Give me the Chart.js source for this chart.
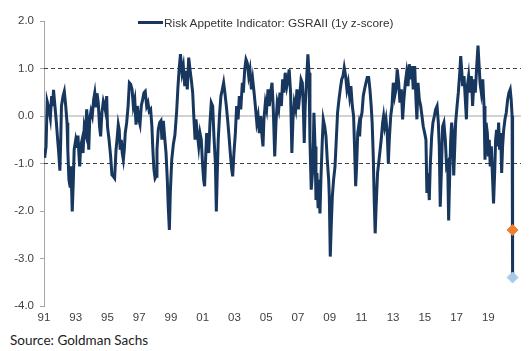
<!DOCTYPE html>
<html>
<head>
<meta charset="utf-8">
<script src="https://cdn.jsdelivr.net/npm/chart.js@4.4.1/dist/chart.umd.min.js"></script>
<style>
  html, body { margin: 0; padding: 0; background: #fff; }
  #wrap { position: relative; width: 531px; height: 351px; overflow: hidden; }
  #chart { position: absolute; left: 0; top: 0; }
  #legend { position: absolute; left: 138px; top: 16px; font: 11.8px "Liberation Sans", Arial, sans-serif; color: #333; white-space: nowrap; }
  #legend .swatch { display: inline-block; width: 25px; height: 3px; background: #17375e; vertical-align: middle; margin-right: 1px; position: relative; top: -1px; }
  #source { position: absolute; left: 10px; top: 332px; font: 13.5px Lato, "Open Sans", sans-serif; color: #222; }
</style>
</head>
<body>
<div id="wrap">
  <canvas id="chart" width="531" height="331"></canvas>
  <div id="legend"><span class="swatch"></span>Risk Appetite Indicator: GSRAII (1y z-score)</div>
  <div id="source">Source: Goldman Sachs</div>
</div>
<script>
// ---- data ----
const seriesLabel = 'Risk Appetite Indicator: GSRAII (1y z-score)';

const dates = [
  1991.04,1991.13,1991.2,1991.3,1991.4,1991.48,1991.55,1991.6,1991.7,1991.78,1991.86,1991.93,
  1992.0,1992.05,1992.1,1992.2,1992.28,1992.37,1992.45,1992.5,1992.57,1992.64,1992.7,1992.78,1992.85,1992.9,
  1993.0,1993.08,1993.14,1993.2,1993.25,1993.31,1993.4,1993.46,1993.54,1993.63,1993.69,1993.75,1993.82,1993.88,1993.96,
  1994.04,1994.13,1994.2,1994.28,1994.34,1994.42,1994.5,1994.57,1994.65,1994.74,1994.82,1994.88,1994.95,
  1995.0,1995.1,1995.2,1995.28,1995.37,1995.45,1995.54,1995.62,1995.68,1995.74,1995.8,1995.87,1995.93,
  1996.0,1996.06,1996.12,1996.21,1996.3,1996.38,1996.46,1996.55,1996.63,1996.72,1996.8,1996.88,1996.97,
  1997.05,1997.13,1997.22,1997.3,1997.38,1997.47,1997.55,1997.63,1997.72,1997.8,1997.86,1997.93,
  1998.0,1998.06,1998.12,1998.2,1998.29,1998.37,1998.43,1998.52,1998.6,1998.69,1998.77,1998.83,1998.9,1998.96,
  1999.05,1999.15,1999.25,1999.36,1999.44,1999.52,1999.6,1999.7,1999.78,1999.87,1999.95,
  2000.03,2000.12,2000.2,2000.28,2000.37,2000.45,2000.52,2000.58,2000.66,2000.75,2000.83,2000.91,
  2001.0,2001.06,2001.12,2001.19,2001.25,2001.31,2001.38,2001.46,2001.54,2001.63,2001.71,2001.8,2001.86,2001.92,2001.98,
  2002.07,2002.15,2002.24,2002.32,2002.4,2002.49,2002.57,2002.66,2002.74,2002.83,2002.89,2002.97,
  2003.06,2003.14,2003.23,2003.31,2003.4,2003.5,2003.56,2003.65,2003.73,2003.81,2003.9,2003.98,
  2004.07,2004.15,2004.24,2004.32,2004.41,2004.49,2004.57,2004.66,2004.74,2004.8,2004.86,2004.95,
  2005.03,2005.12,2005.2,2005.28,2005.37,2005.45,2005.54,2005.62,2005.7,2005.79,2005.87,2005.96,
  2006.04,2006.12,2006.2,2006.3,2006.37,2006.45,2006.54,2006.62,2006.69,2006.77,2006.86,2006.94,
  2007.03,2007.11,2007.2,2007.28,2007.34,2007.4,2007.46,2007.55,2007.63,2007.7,2007.76,2007.84,2007.95,
  2008.01,2008.08,2008.14,2008.2,2008.27,2008.33,2008.39,2008.45,2008.54,2008.6,2008.69,2008.77,2008.85,2008.94,2008.98,
  2009.04,2009.1,2009.17,2009.25,2009.34,2009.42,2009.5,2009.59,2009.67,2009.76,2009.84,2009.92,
  2010.01,2010.09,2010.17,2010.26,2010.34,2010.43,2010.51,2010.57,2010.64,2010.7,2010.77,2010.83,2010.89,2010.95,
  2011.04,2011.12,2011.2,2011.29,2011.37,2011.46,2011.54,2011.62,2011.68,2011.75,2011.81,2011.87,2011.93,
  2012.02,2012.16,2012.25,2012.34,2012.4,2012.47,2012.55,2012.63,2012.7,2012.76,2012.85,2012.93,
  2013.01,2013.1,2013.18,2013.26,2013.35,2013.43,2013.52,2013.6,2013.68,2013.77,2013.85,2013.94,
  2014.02,2014.1,2014.19,2014.27,2014.36,2014.44,2014.5,2014.57,2014.65,2014.74,2014.82,2014.9,2014.99,
  2015.07,2015.13,2015.2,2015.28,2015.34,2015.43,2015.51,2015.6,2015.68,2015.77,2015.85,2015.91,2015.97,
  2016.04,2016.12,2016.2,2016.29,2016.37,2016.44,2016.5,2016.56,2016.63,2016.69,2016.75,2016.82,2016.88,2016.94,
  2017.03,2017.11,2017.2,2017.26,2017.32,2017.38,2017.47,2017.55,2017.62,2017.68,2017.76,2017.84,2017.93,
  2018.01,2018.1,2018.18,2018.27,2018.35,2018.41,2018.48,2018.56,2018.65,2018.73,2018.79,2018.86,2018.94,
  2019.0,2019.06,2019.12,2019.19,2019.27,2019.33,2019.4,2019.46,2019.52,2019.59,2019.65,2019.71,2019.78,2019.84,2019.9,2019.97,
  2020.05,2020.13,2020.22,2020.3,2020.38,2020.44,2020.5,2020.53,2020.53
];

const values = [
  -0.88,-0.64,0.31,0.17,-0.04,0.42,0.21,0.55,0.17,-0.14,-0.5,-0.78,
  -1.15,-0.57,0.21,0.42,0.52,0.21,-0.14,-0.71,-1.34,-1.48,-1.06,-2.01,-1.34,-0.71,
  -0.5,-0.64,-0.41,-0.81,-1.06,-0.64,-0.5,-0.78,-0.22,-0.36,0.14,-0.14,-0.71,-0.07,0.1,
  0,0.35,0.49,0.21,0.48,0.28,-0.22,-0.43,0.07,0.31,0.21,0.1,0.42,
  -0.22,-0.5,-0.85,-1.24,-1.27,-1.31,-0.71,-0.43,-0.18,-0.29,-0.71,-0.5,-0.78,
  -0.92,-0.71,-0.36,-0.14,0.21,0.7,0.67,0.56,0.21,0.35,-0.18,0.21,-0.07,
  -0.18,0.21,0.35,0.49,0.52,0.21,0.28,0.1,0.14,-0.22,-0.71,-1.13,
  -1.31,-1.27,-0.71,-0.29,-0.14,-0.1,-0.5,-0.1,-0.43,-0.78,-1.34,-1.91,-2.4,-1.62,
  -0.92,-0.6,-0.4,0.1,0.6,1.0,1.3,0.91,1.05,0.63,0.95,
  0.56,1.23,0.98,0.77,0.49,-0.07,-0.5,-0.07,-0.36,-0.64,-0.36,-0.5,
  -1.06,-1.34,-1.48,-0.85,-0.36,-0.5,-0.78,-0.14,0.28,0.21,-0.43,-0.99,-2.01,-1.2,-0.5,
  0.07,0.42,0.56,0.7,0.49,0.21,-0.07,-0.43,-0.78,-1.13,-1.27,-0.78,
  -0.36,0.21,-0.07,0.42,0.14,0.7,0.49,0.98,1.19,1.12,0.84,0.98,
  0.56,0.77,0.49,0.21,-0.14,0,-0.36,0,-0.43,-0.64,-0.07,0.28,
  0.14,0.56,0.21,0.49,0.7,0.14,-0.85,-0.14,0.28,0.14,0.49,0.21,
  0.77,0.49,0.91,0.63,0.77,0.98,0.49,-0.78,-0.07,0.28,0.14,0.56,
  0.14,0.42,0.77,0.7,0.21,-0.57,0.21,0.77,1.3,0.91,-0.5,-1.55,-1.06,
  0.07,-0.64,-1.77,-1.2,-1.91,-1.34,-2.05,-1.34,-0.5,-0.07,-0.22,-0.43,-0.92,-1.34,-1.7,
  -2.96,-2.33,-1.7,-1.34,-1.06,-0.5,0.07,0.35,0.56,0.77,0.84,1.02,
  0.84,0.56,0.7,0.42,0.63,0.21,0,-0.64,-1.48,-1.06,-0.36,-0.22,-0.43,-0.07,
  0.07,0.42,0.56,0.7,0.81,0.81,0.56,0.21,-0.14,-0.85,-1.77,-2.47,-1.91,
  -1.2,-0.78,-0.5,-0.14,0,-0.22,-0.07,-0.36,-0.99,-0.5,0,0.21,
  0.7,0.42,0.56,0.98,0.7,0.28,0.56,-0.07,0.35,0.7,0.91,0.63,
  1.09,0.77,1.05,0.56,1.05,0.35,-0.07,0.7,0.35,0.21,0,-0.22,-0.36,
  -0.5,-1.62,-1.2,-1.77,-1.06,-0.43,-0.14,0,0.14,0.21,-0.14,-0.64,-1.91,
  -1.2,-0.22,-0.14,-0.5,-1.06,-1.0,-2.2,-1.34,-0.5,-0.14,-0.36,-1.25,-0.71,-0.14,
  0.21,0.49,0.91,1.26,0.98,0.63,0.84,0.35,-0.07,0.63,0.84,0.49,0.84,
  0.21,0.77,0.49,1.05,1.48,1.12,0.7,0.49,0.77,0.21,-0.92,-0.14,-0.36,
  -0.85,-0.5,-1.06,-0.64,-1.34,-1.84,-1.2,-0.5,-0.29,-0.64,-0.14,-0.71,-0.36,-1.2,-0.64,-0.29,
  -0.07,0.07,0.35,0.49,0.56,0.35,0,-2.4,-3.4
];

// highlighted last readings
const markDate = 2020.53;
const prevWeekValue = -2.4;   // orange diamond
const latestValue = -3.4;     // light blue diamond

// reference levels
const dashedLevels = [1, -1];
const zeroLevel = 0;

// axis settings
const xTickYears = [1991,1993,1995,1997,1999,2001,2003,2005,2007,2009,2011,2013,2015,2017,2019];
const xMin = 1991, xMax = 2021.06;
const yMin = -4, yMax = 2;

// ---- build chart ----
const pts = dates.map((d, i) => ({ x: d, y: values[i] }));
const lvl = v => [{ x: xMin, y: v }, { x: xMax, y: v }];

const datasets = [];
dashedLevels.forEach(v => datasets.push({
  data: lvl(v), borderColor: '#404040', borderWidth: 1, borderDash: [4, 3],
  pointRadius: 0, order: 5
}));
datasets.push({
  data: lvl(zeroLevel), borderColor: '#a6a6a6', borderWidth: 1,
  pointRadius: 0, order: 4
});
datasets.push({
  label: seriesLabel, data: pts, borderColor: '#17375e', borderWidth: 3,
  pointRadius: 0, tension: 0, order: 3
});
datasets.push({
  data: [{ x: markDate, y: prevWeekValue }], showLine: false,
  pointStyle: 'rectRot', pointRadius: 5.5, backgroundColor: '#f0802c', borderColor: '#f0802c', order: 2
});
datasets.push({
  data: [{ x: markDate, y: latestValue }], showLine: false,
  pointStyle: 'rectRot', pointRadius: 5.5, backgroundColor: '#a9cbea', borderColor: '#a9cbea', order: 1
});

const tickFont = { family: '"Liberation Sans", Arial, sans-serif', size: 11.5 };

const ctx = document.getElementById('chart').getContext('2d');
const chart = new Chart(ctx, {
  type: 'line',
  data: { datasets },
  options: {
    responsive: false,
    animation: false,
    layout: { padding: { top: 21, right: 10, bottom: 5, left: 0 } },
    plugins: { legend: { display: false }, tooltip: { enabled: false } },
    scales: {
      x: {
        type: 'linear', min: xMin, max: xMax,
        afterBuildTicks: s => { s.ticks = xTickYears.map(v => ({ value: v })); },
        afterFit: s => { s.height = 20; },
        ticks: {
          autoSkip: false, maxRotation: 0, padding: 5, color: '#404040', font: tickFont,
          callback: v => String(Math.round(v) % 100).padStart(2, '0')
        },
        grid: { display: false, drawTicks: false },
        border: { display: false }
      },
      y: {
        min: yMin, max: yMax,
        afterFit: s => { s.width = 44; },
        ticks: { stepSize: 1, padding: 6, color: '#404040', font: tickFont, callback: v => v.toFixed(1) },
        grid: { drawOnChartArea: false, drawTicks: true, tickLength: 4, color: '#a6a6a6' },
        border: { display: true, color: '#a6a6a6', width: 1 }
      }
    }
  }
});
</script>
</body>
</html>
